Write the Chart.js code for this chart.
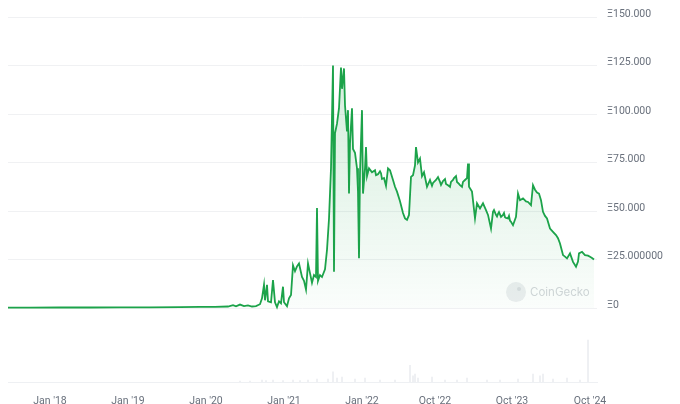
<!DOCTYPE html>
<html>
<head>
<meta charset="utf-8">
<script src="https://cdn.jsdelivr.net/npm/chart.js@4.4.1/dist/chart.umd.min.js"></script>
<style>
  html, body { margin: 0; padding: 0; background: #fff; }
</style>
</head>
<body>
<canvas id="chart" width="680" height="404"></canvas>
<script>
// ordinal observation index (evenly spaced like the source axis) and price in ETH
const obs = [0, 11, 26, 41, 56, 71, 86, 96, 103.5, 110, 112.5, 114, 116, 118, 120, 122, 124, 126, 127, 128, 128.5, 129.5, 130, 131.5, 132.5, 133.5, 134.5, 135.5, 136.5, 137.5, 138, 139.5, 140.5, 141.5, 142.5, 143.5, 144.5, 145.5, 147, 148, 149, 150, 151, 152, 153, 154, 154.5, 155, 156, 157, 158.5, 159.5, 160.5, 161.5, 162.5, 163, 163.5, 164.5, 165.5, 166.5, 167, 168, 168.5, 169.5, 170, 170.5, 171, 172, 172.5, 173.5, 174.5, 175, 175.5, 176, 177, 177.5, 178.5, 179, 179.5, 180.5, 182, 183.5, 184, 185, 186, 186.5, 187, 188, 189, 190, 191, 192.5, 193.5, 194.5, 196, 197.5, 198.5, 199.5, 200.5, 201.5, 202.5, 203.5, 204, 205, 206, 207, 208, 209.5,
    211, 212, 212.5, 214, 215, 216, 216.5, 217.5, 218.5, 219, 220, 221, 221.5, 222.5, 223, 224, 224.5, 225.5, 226, 227, 227.5, 228.5, 229.5, 230, 230.5, 232, 233.5, 234.5, 236, 237.5, 239, 240, 241.5, 242.5, 243, 244, 244.5, 245, 245.5, 246.5, 247.5, 248, 248.5, 249, 250, 250.5, 251, 251.5, 252.5, 254, 255, 256, 257.5, 259, 260, 261.5, 262.5, 263.5, 264.5, 265.5, 266.5, 267.5, 268.5, 269.5, 271, 272.5, 274, 275, 276, 277.5, 278.5, 279.5, 281, 282.5, 284, 285, 285.5, 287, 288.5, 290, 291, 292, 293];
const priceEth = [0.2, 0.2, 0.3, 0.3, 0.4, 0.4, 0.5, 0.6, 0.6, 0.8, 1.5, 0.9, 1.8, 1.0, 1.4, 0.8, 1.0, 2.0, 5, 12, 4, 12, 3.5, 3, 14.4, 3, 0.5, 3.5, 2.5, 11, 3, 1, 5, 6.7, 22, 19, 21.5, 23, 16, 14, 9.5, 23, 18, 13, 17, 16, 51.5, 14, 17, 16, 20, 30, 46, 72, 125, 18.7, 90, 95, 103, 124, 113, 123.5, 104.5, 91, 102, 59, 85, 103, 82, 80, 72, 60, 25.7, 70, 102, 59, 72, 83, 68, 72, 70, 71, 68.5, 69, 70.5, 69.5, 66.5, 67, 63, 72, 71, 66, 62.5, 60, 55, 49, 46.2, 45.5, 48, 67.6, 68.5, 73.5, 83, 75, 77, 68, 70, 62.5,
    66, 63, 64.5, 66, 67.5, 65, 63.5, 65.5, 66.5, 64, 63.3, 62.5, 65, 66, 67, 68, 65, 64, 63.3, 62.5, 65, 66, 67, 74.5, 62.5, 60, 46.2, 54, 51.3, 54, 50.5, 48, 41, 49.6, 50.5, 48, 47.2, 48.5, 49.5, 47, 48, 49, 46.8, 46.5, 46.2, 47.5, 45, 44.5, 42.7, 47, 59, 55.6, 56.5, 55, 54.7, 53, 63.3, 61, 59.5, 59, 55.6, 49.6, 47.5, 46.2, 41, 39.3, 37.6, 36, 33.3, 27.3, 26.5, 25.6, 28.2, 23.8, 21.3, 24, 28.2, 29, 27.3, 27, 26.4, 25.8, 25];

// traded volume (arbitrary units) for the lower panel
const volObs = [116, 121, 127, 129, 132.5, 137.5, 142.5, 146, 150, 154.5, 160, 162.5, 164.5, 167, 173.5, 178.5, 186, 193.5, 201, 202.5, 203.5, 205, 212, 218.5, 224.5, 229.5, 239.5, 246, 255, 262.5, 266, 267.5, 272.5, 279.5, 286, 290];
const volume = [24, 24, 48, 36, 48, 36, 48, 36, 48, 70, 70, 240, 95, 120, 70, 95, 48, 48, 400, 145, 190, 95, 120, 48, 48, 95, 48, 48, 70, 190, 145, 190, 70, 95, 48, 1000];

const xTickObs = [21, 60, 99, 138, 177, 213.5, 252, 291];
const xTickLabels = ["Jan '18", "Jan '19", "Jan '20", "Jan '21", "Jan '22", "Oct '22", "Oct '23", "Oct '24"];
const yTicks = [0, 25, 50, 75, 100, 125, 150];
const yTickLabels = ["Ξ0", "Ξ25.000000", "Ξ50.000", "Ξ75.000", "Ξ100.000", "Ξ125.000", "Ξ150.000"];

const green = "#1ca34a";
const tickColor = "#69707c";
const tickFont = { family: "Roboto", size: 10.5 };

// price panel leaves room under zero for the volume strip
const yMin = -38.1;

const watermark = {
    id: "watermark",
    beforeDatasetsDraw(chart) {
        const c = chart.ctx;
        const a = chart.chartArea;
        const y0 = chart.scales.y.getPixelForValue(0) - 16;
        c.save();
        c.fillStyle = "#eceef0";
        c.beginPath();
        c.arc(a.right - 81, y0, 10, 0, Math.PI * 2);
        c.fill();
        c.fillStyle = "#d9dce0";
        c.beginPath();
        c.arc(a.right - 78, y0 - 3, 2, 0, Math.PI * 2);
        c.fill();
        c.font = "11.5px Inter";
        c.textBaseline = "middle";
        c.fillStyle = "#d3d6da";
        c.fillText("CoinGecko", a.right - 67, y0);
        c.restore();
    }
};

const fillGradient = (context) => {
    const chart = context.chart;
    const area = chart.chartArea;
    if (!area) return "rgba(30,163,75,0.1)";
    const bottom = chart.scales.y.getPixelForValue(0);
    const g = chart.ctx.createLinearGradient(0, area.top + 40, 0, bottom);
    g.addColorStop(0, "rgba(30,163,75,0.20)");
    g.addColorStop(1, "rgba(30,163,75,0.02)");
    return g;
};

new Chart(document.getElementById("chart"), {
    data: {
        datasets: [
            {
                type: "line",
                label: "Price",
                data: obs.map((o, i) => ({ x: o, y: priceEth[i] })),
                yAxisID: "y",
                borderColor: green,
                borderWidth: 1.8,
                pointRadius: 0,
                tension: 0,
                fill: "origin",
                backgroundColor: fillGradient,
                order: 1
            },
            {
                type: "bar",
                label: "Volume",
                data: volObs.map((o, i) => ({ x: o, y: volume[i] })),
                yAxisID: "yVol",
                backgroundColor: "rgba(205,210,218,0.4)",
                barThickness: 1,
                order: 2
            }
        ]
    },
    options: {
        responsive: false,
        devicePixelRatio: 1,
        animation: false,
        layout: { padding: { left: 8, top: 17, right: 0, bottom: 0 } },
        plugins: { legend: { display: false }, tooltip: { enabled: false } },
        scales: {
            x: {
                type: "linear",
                offset: false,
                min: 0,
                max: 294.5,
                grid: { display: false, offset: false },
                border: { display: true, color: "#eef0f3" },
                afterBuildTicks: (s) => { s.ticks = xTickObs.map(v => ({ value: v })); },
                afterFit: (s) => {
                    s.height = 22;
                    s.paddingLeft = 0;
                    s.paddingRight = 0;
                },
                ticks: {
                    autoSkip: false,
                    maxRotation: 0,
                    padding: 5,
                    color: tickColor,
                    font: tickFont,
                    callback: (v) => {
                        const k = xTickObs.indexOf(v);
                        return k >= 0 ? xTickLabels[k] : "";
                    }
                }
            },
            y: {
                position: "right",
                min: yMin,
                max: 150,
                grid: { color: "#f0f1f3", drawTicks: false },
                border: { display: false },
                afterBuildTicks: (s) => { s.ticks = yTicks.map(v => ({ value: v })); },
                afterFit: (s) => { s.width = 83; },
                ticks: {
                    padding: 10,
                    labelOffset: -3,
                    color: tickColor,
                    font: tickFont,
                    callback: (v) => {
                        const k = yTicks.indexOf(v);
                        return k >= 0 ? yTickLabels[k] : "";
                    }
                }
            },
            yVol: {
                display: false,
                min: 0,
                max: 8700
            }
        }
    },
    plugins: [watermark]
});
</script>
</body>
</html>
